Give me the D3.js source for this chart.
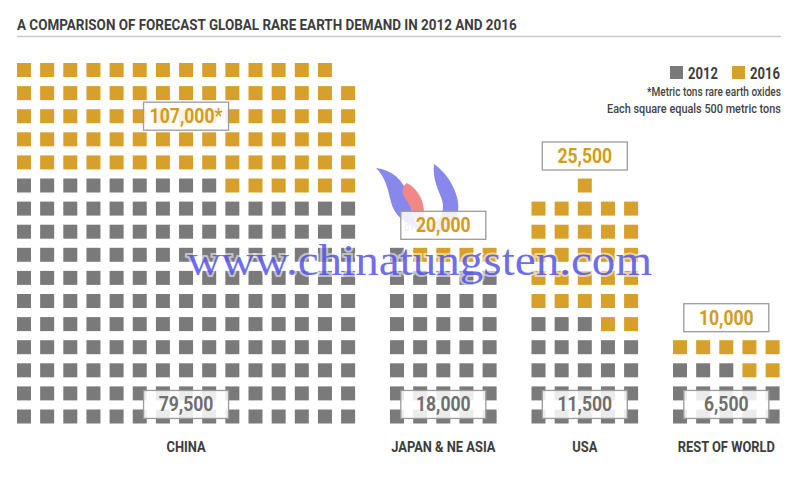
<!DOCTYPE html>
<html><head><meta charset="utf-8">
<script src="https://cdn.jsdelivr.net/npm/d3@7/dist/d3.min.js"></script>
<style>body{margin:0;background:#fff}</style>
</head><body><svg id="c" width="800" height="478"></svg>
<script>
const categories = ["CHINA", "JAPAN & NE ASIA", "USA", "REST OF WORLD"];
const values2012 = [79500, 18000, 11500, 6500];
const values2016 = [107000, 20000, 25500, 10000];
const squares2012 = [159, 36, 23, 13];
const squares2016 = [239, 40, 51, 20];
const columnsPerCategory = [15, 5, 5, 5];
const seriesNames = ["2012", "2016"];
const titleText = "A COMPARISON OF FORECAST GLOBAL RARE EARTH DEMAND IN 2012 AND 2016";
const notes = ["*Metric tons rare earth oxides", "Each square equals 500 metric tons"];
const watermark = "www.chinatungsten.com";
const logoText = "CTOMS";

const svg = d3.select("#c");
const FONT = "Roboto, 'Liberation Sans', sans-serif";
const GRAY = "#7a7a7a", GOLD = "#d7a02b", TEXT = "#3d3d3d";
const color = d3.scaleOrdinal().domain(seriesNames).range([GRAY, GOLD]);

const pitch = 23.15, sq = 14, groupGap = 48.9;
const y = d3.scaleLinear().domain([0, 15]).range([416.5, 70]);
const col = d3.scaleLinear().domain([0, 1]).range([0, pitch]);

const starts = [];
let cx = 24;
columnsPerCategory.forEach((c, i) => { starts.push(cx); cx += col(c - 1) + groupGap; });
const groupCenter = i => starts[i] + col(columnsPerCategory[i] - 1) / 2;

function ctext(parent, x, yy, str, o) {
  const g = parent.append("g").attr("transform", `translate(${x},${yy})`);
  const t = g.append("text").attr("x", 0).attr("y", 0).text(str)
    .attr("font-family", o.family || FONT).attr("font-weight", o.weight || 700)
    .attr("font-size", o.size).attr("fill", o.fill || TEXT)
    .attr("text-anchor", o.anchor || "start");
  let f = o.f || 1;
  if (o.width) f = o.width / t.node().getComputedTextLength();
  g.attr("transform", `translate(${x},${yy}) scale(${f},1)`);
  return t;
}

// title
ctext(svg, 17, 30, titleText, { size: 15.5, width: 500 });
svg.append("line").attr("x1", 17).attr("x2", 781).attr("y1", 36.5).attr("y2", 36.5)
  .attr("stroke", "#c9c9c9").attr("stroke-width", 1.5);

// squares
const cells = [];
categories.forEach((cat, i) => {
  const cols = columnsPerCategory[i], total = squares2016[i];
  const lastRow = Math.floor((total - 1) / cols), rem = total % cols;
  for (let k = 0; k < total; k++) {
    const r = Math.floor(k / cols);
    let c = k % cols;
    if (r === lastRow && rem !== 0 && (cols - rem) % 2 === 0) c += (cols - rem) / 2;
    cells.push({ i, r, c, s: k < squares2012[i] ? "2012" : "2016" });
  }
});
svg.append("g").selectAll("rect").data(cells).join("rect")
  .attr("x", d => starts[d.i] + col(d.c) - sq / 2)
  .attr("y", d => y(d.r) - sq / 2)
  .attr("width", sq).attr("height", sq)
  .attr("fill", d => color(d.s));

// logo (watermark)
const logo = svg.append("g").attr("opacity", 0.72);
logo.append("path").attr("fill", "#5a5ae6")
  .attr("d", "M376,168 C392,170 404,180 408,196 C411,208 414,218 418,228 C404,224 394,214 391,202 C388,190 386,178 376,168 Z");
logo.append("path").attr("fill", "#ee5a5a")
  .attr("d", "M407,183 C417,188 424,200 424,212 C424,220 421,226 418,229 C416,218 412,208 405,198 C401,192 402,186 407,183 Z");
logo.append("path").attr("fill", "#5a5ae6")
  .attr("d", "M434,164 C445,172 452,182 456,194 C461,208 458,222 445,230 C438,233 428,232 420,229 C434,226 444,218 443,205 C442,194 432,184 434,164 Z");
logo.append("text").attr("x", 404).attr("y", 231).text(logoText)
  .attr("font-family", FONT).attr("font-style", "italic").attr("font-weight", 700)
  .attr("font-size", 9).attr("fill", "#5a5ae6");

// value boxes
const fmt = d3.format(",");
const boxW = 85, boxH = 28;
function box(xc, yc, label, fill) {
  const g = svg.append("g");
  g.append("rect").attr("x", xc - boxW / 2).attr("y", yc - boxH / 2).attr("width", boxW).attr("height", boxH)
    .attr("fill", "#fff").attr("fill-opacity", 0.86).attr("stroke", "#9b9b9b").attr("stroke-width", 1.3);
  ctext(g, xc, yc + 7, label, { size: 20, f: 0.88, anchor: "middle", fill });
}
categories.forEach((cat, i) => {
  const xc = groupCenter(i);
  box(xc, (y(0) + y(1)) / 2 - 0.5, fmt(values2012[i]), "#6f6f6f");
  const topRow = Math.ceil(squares2016[i] / columnsPerCategory[i]) - 1;
  let yc = y(topRow) - sq / 2 - 8.5 - boxH / 2;
  let lab = fmt(values2016[i]);
  if (yc - boxH / 2 < 45) { yc = y(topRow - 2); lab += "*"; }
  box(xc, yc, lab, "#d39b20");
  ctext(svg, xc, 452, cat, { size: 15, f: 0.86, anchor: "middle" });
});

// legend
const legX = [670, 732];
seriesNames.forEach((s, j) => {
  svg.append("rect").attr("x", legX[j]).attr("y", 66).attr("width", 13).attr("height", 13).attr("fill", color(s));
  ctext(svg, legX[j] + 18, 78.5, s, { size: 16.5, width: 30 });
});
const noteW = [134, 174];
notes.forEach((n, j) => {
  ctext(svg, 781 - noteW[j], 96 + j * 17, n, { size: 13, weight: 500, fill: "#444", width: noteW[j] });
});

// watermark text
svg.append("text").attr("x", 187).attr("y", 275).text(watermark)
  .attr("font-family", "'Liberation Serif', 'DejaVu Serif', serif").attr("font-size", 44)
  .attr("fill", "#4646e6").attr("fill-opacity", 0.78)
  .attr("stroke", "#fff").attr("stroke-opacity", 0.55).attr("stroke-width", 4)
  .attr("paint-order", "stroke")
  .attr("textLength", 465).attr("lengthAdjust", "spacingAndGlyphs");
</script></body></html>
